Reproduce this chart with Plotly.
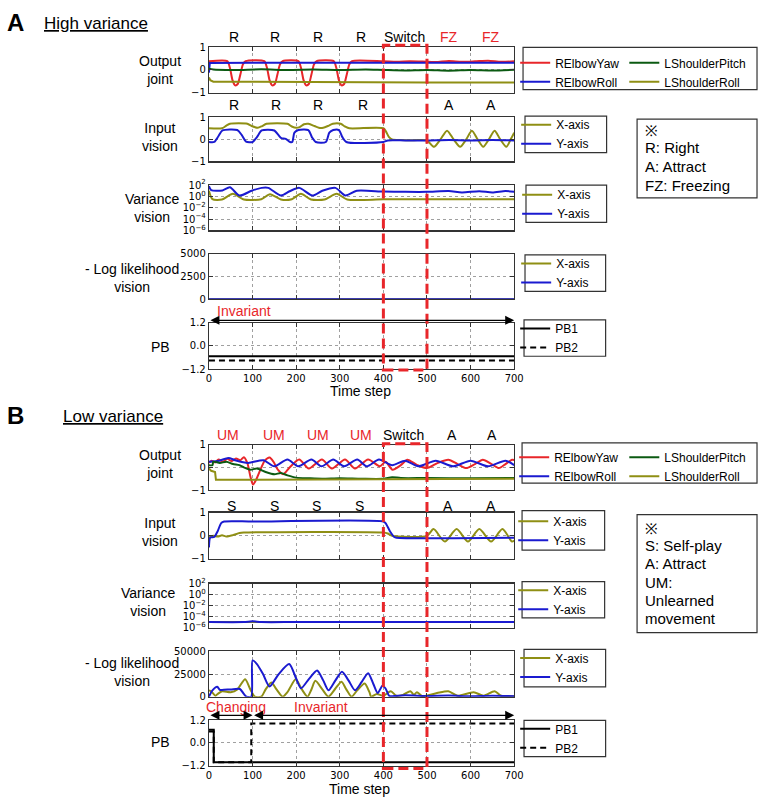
import plotly.graph_objects as go

W, H = 768, 804

# ---------------- DATA : Panel A (High variance) ----------------
A_yaw_t = [0, 42, 48, 54, 60, 66, 72, 78, 84, 127, 133, 139, 145, 151, 157, 163, 169,
           205, 211, 217, 223, 229, 235, 241, 247, 286, 292, 298, 304, 310, 316, 322, 328,
           400, 430, 460, 490, 520, 550, 580, 610, 640, 670, 700]
A_yaw = [0.38, 0.39, 0.1, -0.45, -0.68, -0.62, -0.2, 0.25, 0.39,
         0.39, 0.1, -0.45, -0.68, -0.62, -0.2, 0.25, 0.39,
         0.39, 0.1, -0.45, -0.68, -0.62, -0.2, 0.25, 0.39,
         0.39, 0.1, -0.45, -0.68, -0.62, -0.2, 0.25, 0.39,
         0.38, 0.36, 0.38, 0.37, 0.35, 0.4, 0.36, 0.38, 0.41, 0.36, 0.38]
A_roll_t = [0, 2, 100, 200, 300, 400, 500, 600, 700]
A_roll = [-0.12, 0.31, 0.32, 0.32, 0.32, 0.32, 0.32, 0.32, 0.32]
A_pitch_t = [0, 10, 60, 120, 180, 240, 300, 360, 400, 450, 500, 550, 600, 650, 700]
A_pitch = [0.06, 0.02, 0.0, 0.03, 0.0, 0.02, 0.0, 0.02, 0.0, -0.02, 0.0, -0.03, 0.0, -0.02, 0.01]
A_sroll_t = [0, 3, 10, 100, 200, 300, 400, 500, 600, 700]
A_sroll = [-0.33, -0.45, -0.52, -0.53, -0.53, -0.54, -0.55, -0.55, -0.55, -0.55]

A_inx_t = [0, 30, 40, 48, 88, 98, 112, 122, 132, 180, 190, 200, 208, 218, 228, 242, 252, 262,
           275, 284, 302, 312, 322, 400, 406, 413, 420, 440, 470, 500, 516, 531, 546, 561,
           576, 590, 603, 616, 629, 642, 655, 668, 682, 692, 700]
A_inx = [0.5, 0.5, 0.62, 0.7, 0.7, 0.6, 0.52, 0.6, 0.7, 0.7, 0.58, 0.52, 0.55, 0.68, 0.7, 0.6, 0.52, 0.52,
         0.62, 0.7, 0.7, 0.58, 0.5, 0.5, 0.35, 0.1, 0.0, -0.03, -0.04, -0.05, -0.34, 0.0, 0.39, 0.0,
         -0.34, 0.0, 0.39, 0.0, -0.34, 0.0, 0.39, 0.0, -0.34, 0.0, 0.3]
A_iny_t = [0, 12, 22, 31, 65, 75, 85, 100, 110, 121, 150, 159, 166, 176, 186, 191, 196, 205, 228, 236,
           245, 268, 276, 285, 298, 306, 315, 400, 410, 450, 500, 550, 600, 650, 700]
A_iny = [-0.12, -0.12, 0.15, 0.4, 0.42, 0.2, -0.1, -0.12, 0.1, 0.4, 0.4, 0.2, 0.05, 0.02, -0.12, -0.12, 0.3, 0.42, 0.42, 0.1,
         -0.12, -0.12, 0.3, 0.42, 0.42, 0.1, -0.12, -0.12, -0.05, -0.05, -0.05, -0.03, -0.05, -0.03, -0.05]

A_varx_t = [0, 8, 30, 55, 80, 120, 140, 165, 190, 211, 234, 265, 293, 317, 400, 500, 600, 700]
A_varx = [10, 0.32, 0.28, 2.8, 0.28, 0.32, 2.5, 0.28, 0.32, 2.8, 0.28, 0.28, 2.8, 0.28, 0.3, 0.3, 0.32, 0.3]
A_vary_t = [0, 5, 31, 48, 70, 98, 121, 136, 165, 185, 207, 237, 260, 290, 313, 339,
            400, 450, 500, 550, 580, 620, 650, 680, 700]
A_vary = [63, 12.6, 11, 40, 1.4, 10, 32, 32, 1.4, 8, 32, 1.4, 10, 32, 1.4, 10,
          7, 6.3, 6.3, 9, 5, 8, 5, 9, 6.3]

A_ll_t = [0, 100, 200, 300, 400, 500, 600, 700]
A_llx = [0, 0, 0, 0, 0, 0, 0, 0]
A_lly = [0, 0, 0, 0, 0, 0, 0, 0]

A_pb_t = [0, 700]
A_pb1 = [-0.53, -0.53]
A_pb2 = [-0.75, -0.75]

# ---------------- DATA : Panel B (Low variance) ----------------
B_yaw_t = [0, 6, 14, 22, 32, 42, 52, 62, 72, 80, 88, 95, 101, 108, 118, 128, 139, 148, 158, 170,
           185, 207, 229, 259, 282, 312, 335, 365, 392, 405, 421, 440, 455, 478, 500, 525, 549,
           570, 590, 610, 628, 648, 665, 680, 695, 700]
B_yaw = [0.2, 0.3, 0.22, 0.35, 0.25, 0.38, 0.28, 0.4, 0.32, 0.45, 0.2, -0.4, -0.76, -0.55, -0.1, 0.3, 0.44, 0.25, -0.1, -0.3,
         0.0, 0.35, -0.05, 0.35, -0.05, 0.35, -0.05, 0.35, 0.05, 0.25, -0.1, 0.1, 0.34, 0.1, -0.03, 0.2, 0.34,
         0.15, -0.03, 0.15, 0.34, 0.15, -0.03, 0.15, 0.34, 0.33]
B_roll_t = [0, 20, 45, 60, 90, 125, 150, 180, 205, 235, 258, 285, 310, 340, 362, 390, 420, 450, 480,
            520, 560, 600, 640, 680, 700]
B_roll = [0.25, 0.28, 0.42, 0.32, 0.2, 0.32, 0.05, 0.35, 0.05, 0.35, 0.05, 0.35, 0.05, 0.35, 0.05, 0.35, 0.1, 0.3, 0.05,
          0.3, 0.05, 0.3, 0.05, 0.3, 0.1]
B_pitch_t = [0, 8, 10, 25, 40, 55, 70, 80, 95, 110, 130, 150, 165, 180, 200, 230, 260, 300, 350, 400,
             420, 440, 500, 600, 700]
B_pitch = [0.1, 0.1, 0.25, 0.2, 0.25, 0.15, 0.1, 0.0, -0.1, -0.05, -0.2, -0.3, -0.25, -0.35, -0.45, -0.48, -0.5, -0.48, -0.5, -0.5,
           -0.43, -0.47, -0.47, -0.48, -0.47]
B_sroll_t = [0, 5, 14, 16, 100, 400, 420, 700]
B_sroll = [-0.05, -0.15, -0.2, -0.55, -0.55, -0.53, -0.5, -0.5]

B_inx_t = [0, 10, 20, 30, 40, 55, 70, 80, 400, 410, 420, 500, 515, 541, 568, 594, 620, 647, 673, 695, 700]
B_inx = [-0.07, 0.0, -0.03, 0.02, -0.03, 0.03, 0.12, 0.14, 0.14, 0.1, 0.0, 0.0, 0.29, -0.25, 0.29, -0.25, 0.29, -0.25, 0.29, -0.25, -0.2]
B_iny_t = [0, 3, 12, 20, 28, 35, 100, 400, 405, 415, 425, 430, 700]
B_iny = [-0.5, -0.07, -0.05, 0.2, 0.55, 0.62, 0.62, 0.62, 0.55, 0.2, -0.05, -0.08, -0.08]

B_var_t = [0, 80, 100, 120, 200, 400, 700]
B_varx = [1.1e-5, 1.1e-5, 1.1e-5, 1.1e-5, 1.1e-5, 1.1e-5, 1.1e-5]
B_vary = [1.1e-5, 1.1e-5, 1.5e-5, 1.1e-5, 1.1e-5, 1.1e-5, 1.1e-5]

B_llx_t = [0, 5, 15, 20, 30, 50, 65, 83, 95, 105, 120, 130, 143, 155, 169, 180, 199, 213, 226, 235,
           244, 260, 274, 290, 304, 315, 327, 340, 357, 368, 372, 385, 400, 417, 430, 445, 462, 470,
           477, 490, 523, 549, 570, 607, 630, 655, 670, 700]
B_llx = [7000, 6000, 1000, 3000, 6000, 5000, 8000, 19300, 8000, 0, 0, 8000, 15700, 8000, 0, 5000, 19300, 8000, 0, 8000,
         17500, 8000, 0, 9000, 16500, 8000, 0, 7000, 14500, 5000, 0, 3000, 1000, 6000, 1000, 2000, 6000, 2000,
         5000, 500, 4000, 6000, 1000, 5000, 1000, 6000, 1000, 500]
B_lly_t = [0, 8, 19, 25, 30, 50, 71, 80, 86, 97, 100, 110, 124, 139, 160, 184, 200, 211, 230, 248,
           262, 274, 290, 305, 320, 335, 350, 365, 377, 387, 398, 405, 413, 420, 450, 500, 550, 600, 650, 700]
B_lly = [0, 7000, 11000, 7500, 7500, 8000, 8500, 3000, 0, 0, 40000, 36000, 25000, 11300, 25000, 36000, 20000, 9200, 20000, 29000,
         18000, 7000, 18000, 27500, 18000, 7000, 16000, 26000, 14000, 4000, 12000, 9000, 1000, 500, 1500, 800, 1200, 500, 1000, 500]

B_pb1_t = [0, 11, 11, 700]
B_pb1 = [0.7, 0.7, -1.03, -1.03]
B_pb2_t = [0, 11, 11, 97, 97, 700]
B_pb2 = [0.6, 0.6, -1.03, -1.03, 1.03, 1.03]

X_TICKS = [0, 100, 200, 300, 400, 500, 600, 700]

# ---------------- STYLE ----------------
RED = '#e8262a'
BLUE = '#1a1ad0'
GREEN = '#0b5a12'
OLIVE = '#8f8f14'
FRAME = '#333333'
SANS = 'Liberation Sans'
TICKF = dict(family='DejaVu Sans', size=10, color='black')


def px(x):
    return x / W


def py(y):
    return 1 - y / H


X_DOM = [px(209.5), px(520)]
Y_BOX = [(41, 87), (112, 157), (181, 227), (251, 297), (321, 368),
         (445, 491), (514, 561), (586, 631), (655, 701), (725, 771)]

fig = go.Figure()


def add(i, t, v, color, name, legend, dash='solid', shape='spline', width=2, show=True):
    xa = 'x' if i == 1 else 'x%d' % i
    ya = 'y' if i == 1 else 'y%d' % i
    fig.add_trace(go.Scatter(
        x=t, y=v, xaxis=xa, yaxis=ya, mode='lines', name=name,
        line=dict(color=color, width=width, dash=dash, shape=shape,
                  smoothing=0.7 if shape == 'spline' else None),
        legend=legend, showlegend=show, hoverinfo='skip'))


PBDASH = '6px,4px'
add(1, A_yaw_t, A_yaw, RED, 'RElbowYaw', 'legend')
add(1, A_roll_t, A_roll, BLUE, 'RElbowRoll', 'legend', shape='linear')
add(1, A_pitch_t, A_pitch, GREEN, 'LShoulderPitch', 'legend2')
add(1, A_sroll_t, A_sroll, OLIVE, 'LShoulderRoll', 'legend2', shape='linear')
add(2, A_inx_t, A_inx, OLIVE, 'X-axis', 'legend3')
add(2, A_iny_t, A_iny, BLUE, 'Y-axis', 'legend3')
add(3, A_varx_t, A_varx, OLIVE, 'X-axis', 'legend4')
add(3, A_vary_t, A_vary, BLUE, 'Y-axis', 'legend4')
add(4, A_ll_t, A_llx, OLIVE, 'X-axis', 'legend5', shape='linear')
add(4, A_ll_t, A_lly, BLUE, 'Y-axis', 'legend5', shape='linear')
add(5, A_pb_t, A_pb1, 'black', 'PB1', 'legend6', shape='linear')
add(5, A_pb_t, A_pb2, 'black', 'PB2', 'legend6', dash=PBDASH, shape='linear')

add(6, B_yaw_t, B_yaw, RED, 'RElbowYaw', 'legend7')
add(6, B_roll_t, B_roll, BLUE, 'RElbowRoll', 'legend7')
add(6, B_pitch_t, B_pitch, GREEN, 'LShoulderPitch', 'legend8')
add(6, B_sroll_t, B_sroll, OLIVE, 'LShoulderRoll', 'legend8', shape='linear')
add(7, B_inx_t, B_inx, OLIVE, 'X-axis', 'legend9')
add(7, B_iny_t, B_iny, BLUE, 'Y-axis', 'legend9')
add(8, B_var_t, B_varx, OLIVE, 'X-axis', 'legend10', shape='linear')
add(8, B_var_t, B_vary, BLUE, 'Y-axis', 'legend10')
add(9, B_llx_t, B_llx, OLIVE, 'X-axis', 'legend11')
add(9, B_lly_t, B_lly, BLUE, 'Y-axis', 'legend11')
add(10, B_pb1_t, B_pb1, 'black', 'PB1', 'legend12', shape='linear')
add(10, B_pb2_t, B_pb2, 'black', 'PB2', 'legend12', dash=PBDASH, shape='linear')

layout = dict(width=W, height=H, margin=dict(l=0, r=0, t=0, b=0),
              paper_bgcolor='white', plot_bgcolor='white', showlegend=True)

common_axis = dict(showline=True, linecolor=FRAME, linewidth=1.2, mirror='ticks',
                   ticks='inside', ticklen=4, tickcolor=FRAME, zeroline=False,
                   showgrid=True, gridcolor='#888888', griddash='dot', gridwidth=0.8,
                   tickfont=TICKF, fixedrange=True)

kinds = ['joint', 'vision', 'var', 'llA', 'pb', 'joint', 'vision', 'var', 'llB', 'pb']
for i in range(1, 11):
    top, bot = Y_BOX[i - 1]
    xk = 'xaxis' if i == 1 else 'xaxis%d' % i
    yk = 'yaxis' if i == 1 else 'yaxis%d' % i
    ya = 'y' if i == 1 else 'y%d' % i
    xa = 'x' if i == 1 else 'x%d' % i
    kind = kinds[i - 1]
    layout[xk] = dict(common_axis, domain=X_DOM, anchor=ya, range=[0, 700],
                      tickmode='array', tickvals=X_TICKS,
                      showticklabels=(kind == 'pb'))
    yd = dict(common_axis, domain=[py(bot), py(top)], anchor=xa)
    if kind in ('joint', 'vision'):
        yd.update(range=[-1, 1], tickmode='array', tickvals=[-1, 0, 1], ticktext=['\u22121', '0', '1'])
    elif kind == 'var':
        yd.update(type='log', range=[-6, 2], tickmode='array',
                  tickvals=[1e-6, 1e-4, 1e-2, 1, 100],
                  ticktext=['10<sup>\u22126</sup>', '10<sup>\u22124</sup>', '10<sup>\u22122</sup>',
                            '10<sup>0</sup>', '10<sup>2</sup>'])
    elif kind == 'llA':
        yd.update(range=[0, 5000], tickmode='array', tickvals=[0, 2500, 5000],
                  ticktext=['0', '2500', '5000'])
    elif kind == 'llB':
        yd.update(range=[0, 50000], tickmode='array', tickvals=[0, 25000, 50000],
                  ticktext=['0', '25000', '50000'])
    else:
        yd.update(range=[-1.2, 1.2], tickmode='array', tickvals=[-1.2, 0, 1.2],
                  ticktext=['\u22121.2', '0.0', '1.2'])
    layout[yk] = yd

# legends (boxes drawn as shapes); (left px, first-row centre px)
LEG_FONT = dict(family=SANS, size=12, color='black')
leg_pos = {
    'legend': (521, 57), 'legend2': (632, 57),
    'legend3': (522, 120), 'legend4': (523, 191), 'legend5': (522, 261), 'legend6': (521, 327),
    'legend7': (520, 458), 'legend8': (632, 458),
    'legend9': (519, 523), 'legend10': (519, 593), 'legend11': (521, 662), 'legend12': (521, 734),
}
for k, (lx, ly) in leg_pos.items():
    layout[k] = dict(x=px(lx), y=py(ly - 15), xanchor='left', yanchor='top',
                     bgcolor='rgba(0,0,0,0)', borderwidth=0, font=LEG_FONT,
                     itemwidth=30, tracegroupgap=0, traceorder='normal')

shapes = []
boxes = [(529, 41, 767, 84), (531, 111, 614, 148), (532, 181, 614, 219), (531, 252, 613, 289),
         (530, 318, 613, 355), (528, 443, 767, 484), (528, 512, 612, 552), (528, 584, 612, 621),
         (530, 653, 613, 691), (530, 725, 613, 762), (645, 114, 767, 194), (645, 516, 767, 636)]
for (x0, y0, x1, y1) in boxes:
    shapes.append(dict(type='rect', xref='paper', yref='paper', x0=px(x0), x1=px(x1),
                       y0=py(y1), y1=py(y0), line=dict(color=FRAME, width=1.2), layer='above'))
SWITCH = [400, 500]
shapes.append(dict(type='rect', xref='x', yref='paper', x0=SWITCH[0], x1=SWITCH[1],
                   y0=py(369), y1=py(39), line=dict(color=RED, width=3, dash='10px,5px'), layer='above'))
shapes.append(dict(type='rect', xref='x6', yref='paper', x0=SWITCH[0], x1=SWITCH[1],
                   y0=py(774), y1=py(444), line=dict(color=RED, width=3, dash='10px,5px'), layer='above'))
layout['shapes'] = shapes

ann = []


def text(x, y, s, size=14, color='black', xanchor='center', yanchor='middle', align='center',
         xref='paper', family=SANS):
    ann.append(dict(x=x, y=y, xref=xref, yref='paper', text=s, showarrow=False,
                    xanchor=xanchor, yanchor=yanchor, align=align,
                    font=dict(family=family, size=size, color=color)))


text(px(2), py(16), '<b>A</b>', size=24, xanchor='left')
text(px(40), py(17), '<u>High variance</u>', size=17, xanchor='left')
text(px(2), py(415), '<b>B</b>', size=24, xanchor='left')
text(px(59), py(416), '<u>Low variance</u>', size=17, xanchor='left')

YLAB = ['Output<br>joint', 'Input<br>vision', 'Variance<br>vision', '- Log likelihood<br>vision', 'PB']
ylab_pos_A = [(160, 64), (160, 132), (152, 204), (131, 275), (160, 346)]
ylab_pos_B = [(160, 465), (160, 534), (148, 605), (131, 676), (160, 747)]
for s, (x, y) in zip(YLAB, ylab_pos_A):
    text(px(x), py(y), s)
for s, (x, y) in zip(YLAB, ylab_pos_B):
    text(px(x), py(y), s)

text(px(364), py(390), 'Time step')
text(px(363), py(795), 'Time step')

A_out_lab = [(57, 'R', 'black'), (152, 'R', 'black'), (251, 'R', 'black'), (348, 'R', 'black'),
             (448, 'Switch', 'black'), (551, 'FZ', RED), (646, 'FZ', RED)]
A_in_lab = [(57, 'R'), (154, 'R'), (251, 'R'), (353, 'R'), (551, 'A'), (646, 'A')]
B_out_lab = [(44, 'UM', RED), (150, 'UM', RED), (249, 'UM', RED), (348, 'UM', RED),
             (447, 'Switch', 'black'), (558, 'A', 'black'), (648, 'A', 'black')]
B_in_lab = [(51, 'S'), (150, 'S'), (247, 'S'), (346, 'S'), (549, 'A'), (646, 'A')]
for t, s, c in A_out_lab:
    text(t, py(30), s, color=c, xref='x')
for t, s in A_in_lab:
    text(t, py(100), s, xref='x')
for t, s, c in B_out_lab:
    text(t, py(435), s, color=c, xref='x6')
for t, s in B_in_lab:
    text(t, py(507), s, xref='x6')

text(81, py(309), 'Invariant', color=RED, xref='x5')
text(63, py(711), 'Changing', color=RED, xref='x10')
text(256, py(711), 'Invariant', color=RED, xref='x10')


def arrow(xr, t0, t1, ypx):
    ann.append(dict(x=t1, y=py(ypx), ax=t0, ay=0, xref=xr, yref='paper', axref=xr, ayref='pixel',
                    text='', showarrow=True, arrowhead=2, arrowside='end+start',
                    arrowsize=1.5, arrowwidth=1.2, arrowcolor='black', standoff=0, startstandoff=0))


arrow('x5', 0, 700, 318.5)
arrow('x10', 0, 100, 720)
arrow('x10', 100, 700, 720)

NOTE_A = ['\u203b', 'R: Right', 'A: Attract', 'FZ: Freezing']
NOTE_A_Y = [126, 143, 162, 181]
NOTE_B = ['\u203b', 'S: Self-play', 'A: Attract', 'UM:', 'Unlearned', 'movement']
NOTE_B_Y = [530, 547, 566, 585, 603, 622]
for s, y in zip(NOTE_A, NOTE_A_Y):
    text(px(651), py(y), s, size=15, xanchor='left', align='left')
for s, y in zip(NOTE_B, NOTE_B_Y):
    text(px(651), py(y), s, size=15, xanchor='left', align='left')

layout['annotations'] = ann
fig.update_layout(layout)
fig.write_html('out.html', config={'displayModeBar': False, 'staticPlot': True},
               post_script="document.body.style.margin='0';document.body.style.overflow='hidden';")
